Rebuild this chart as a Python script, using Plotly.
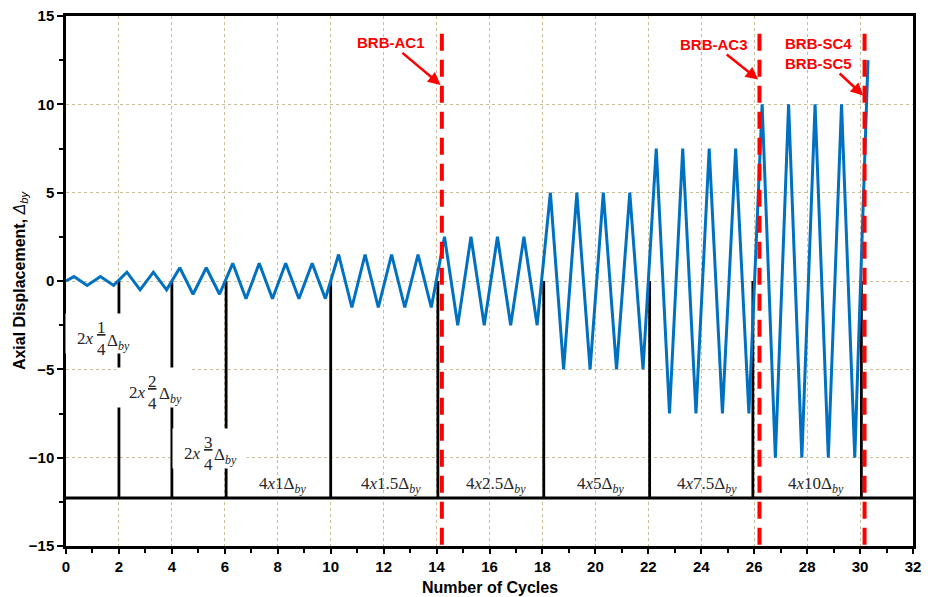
import plotly.graph_objects as go

# ---------------- data ----------------
cycle_x = [0, 0.3, 0.8, 1.3, 1.8, 2.3, 2.8, 3.3, 3.8, 4.3, 4.8, 5.3, 5.8,
           6.3, 6.8, 7.3, 7.8, 8.3, 8.8, 9.3, 9.8,
           10.3, 10.8, 11.3, 11.8, 12.3, 12.8, 13.3, 13.8,
           14.3, 14.8, 15.3, 15.8, 16.3, 16.8, 17.3, 17.8,
           18.3, 18.8, 19.3, 19.8, 20.3, 20.8, 21.3, 21.8,
           22.3, 22.8, 23.3, 23.8, 24.3, 24.8, 25.3, 25.8,
           26.3, 26.8, 27.3, 27.8, 28.3, 28.8, 29.3, 29.8, 30.3]
disp_y = [0, 0.25, -0.25, 0.25, -0.25, 0.5, -0.5, 0.5, -0.5, 0.75, -0.75, 0.75, -0.75,
          1, -1, 1, -1, 1, -1, 1, -1,
          1.5, -1.5, 1.5, -1.5, 1.5, -1.5, 1.5, -1.5,
          2.5, -2.5, 2.5, -2.5, 2.5, -2.5, 2.5, -2.5,
          5, -5, 5, -5, 5, -5, 5, -5,
          7.5, -7.5, 7.5, -7.5, 7.5, -7.5, 7.5, -7.5,
          10, -10, 10, -10, 10, -10, 10, -10, 12.5]

sep_x = [2, 4, 6.05, 10, 14.05, 18.05, 22.05, 25.95, 30.05]
sep_top = 0.0
base_y = -12.28
base_x = [0, 32]

brb_x = [14.2, 26.2, 30.17]
brb_top = 14.0
brb_bottom = -15.0
brb_labels = ["BRB-AC1", "BRB-AC3", "BRB-SC4<br>BRB-SC5"]
brb_head_y = [11.1, 11.4, 10.5]

block_labels = ["4<i>x</i>1Δ<sub><i>by</i></sub>", "4<i>x</i>1.5Δ<sub><i>by</i></sub>",
                "4<i>x</i>2.5Δ<sub><i>by</i></sub>", "4<i>x</i>5Δ<sub><i>by</i></sub>",
                "4<i>x</i>7.5Δ<sub><i>by</i></sub>", "4<i>x</i>10Δ<sub><i>by</i></sub>"]
block_label_x = [8.18, 12.26, 16.23, 20.2, 24.23, 28.33]
block_label_y = -11.55

frac_num = ["1", "2", "3"]
frac_den = "4"
frac_x = [1.33, 3.28, 5.37]
frac_y = [-3.26, -6.29, -9.75]

x_ticks = [0, 2, 4, 6, 8, 10, 12, 14, 16, 18, 20, 22, 24, 26, 28, 30, 32]
y_ticks = [-15, -10, -5, 0, 5, 10, 15]

x_title = "<b>Number of Cycles</b>"
y_title = "<b>Axial Displacement, </b><i>Δ<sub>by</sub></i>"

# ---------------- figure ----------------
fig = go.Figure()

# black block separators
sx, sy = [], []
for v in sep_x:
    sx += [v, v, None]
    sy += [base_y, sep_top, None]
fig.add_trace(go.Scatter(x=sx, y=sy, mode="lines",
                         line=dict(color="black", width=2.8), hoverinfo="skip"))
fig.add_trace(go.Scatter(x=base_x, y=[base_y, base_y], mode="lines",
                         line=dict(color="black", width=3), hoverinfo="skip"))

# loading protocol
fig.add_trace(go.Scatter(x=cycle_x, y=disp_y, mode="lines",
                         line=dict(color="#0070C0", width=3)))

# failure markers
rx, ry = [], []
for v in brb_x:
    rx += [v, v, None]
    ry += [brb_top, brb_bottom, None]
fig.add_trace(go.Scatter(x=rx, y=ry, mode="lines",
                         line=dict(color="#FF0000", width=4, dash="17px,9px"),
                         hoverinfo="skip"))

annotations = []
# BRB labels with arrows
ax_off = [(-50, -42), (-44, -35), (-45, -42)]
for lab, xv, hy, (ax, ay) in zip(brb_labels, brb_x, brb_head_y, ax_off):
    annotations.append(dict(x=xv - 0.05, y=hy, xref="x", yref="y", text="<b>%s</b>" % lab,
                            showarrow=True, arrowhead=2, arrowsize=1, arrowwidth=2.5,
                            arrowcolor="#FF0000", ax=ax, ay=ay,
                            font=dict(family="Liberation Sans", size=15, color="#FF0000")))

serif = dict(family="Liberation Serif", size=17, color="#262626")
for lab, xv in zip(block_labels, block_label_x):
    annotations.append(dict(x=xv, y=block_label_y, xref="x", yref="y", text=lab,
                            showarrow=False, font=serif))

for num, xv, yv in zip(frac_num, frac_x, frac_y):
    # white label box that interrupts the separator line and grid
    annotations.append(dict(x=xv, y=yv, xref="x", yref="y", text=" ",
                            showarrow=False, width=73, height=39, xshift=1, yshift=5,
                            bgcolor="white", borderpad=0, font=serif))
    annotations.append(dict(x=xv, y=yv, xref="x", yref="y", text="Δ<sub><i>by</i></sub>",
                            showarrow=False, xanchor="left", xshift=5, yshift=-3,
                            borderpad=0, font=serif))
    annotations.append(dict(x=xv, y=yv, xref="x", yref="y", text="2<i>x</i>",
                            showarrow=False, xanchor="right", xshift=-6, borderpad=0,
                            font=serif))
    annotations.append(dict(x=xv, y=yv, xref="x", yref="y",
                            text="<u>%s</u><br>%s" % (num, frac_den),
                            showarrow=False, xanchor="center", borderpad=0,
                            font=dict(family="Liberation Serif", size=17, color="#262626")))

# x-axis title placed as a paper annotation
annotations.append(dict(x=0.5, y=-0.078, xref="paper", yref="paper", text=x_title,
                        showarrow=False, xanchor="center", yanchor="middle",
                        font=dict(size=16, family="Liberation Sans", color="black")))

fig.update_layout(
    width=934, height=597,
    margin=dict(l=66, r=21, t=16, b=51, autoexpand=False),
    paper_bgcolor="white", plot_bgcolor="white",
    showlegend=False,
    annotations=annotations,
    font=dict(family="Liberation Sans", color="black"),
)

grid = dict(showgrid=True, gridcolor="#C8BE96", griddash="dot", gridwidth=1)
fig.update_xaxes(range=[0, 32], tickvals=x_ticks, ticks="outside", ticklen=5, tickwidth=2,
                 tickcolor="black", showline=True, linecolor="black", linewidth=2.5,
                 mirror=True, zeroline=False, automargin=False,
                 minor=dict(dtick=1, ticks="outside", ticklen=4, tickwidth=1.5,
                            tickcolor="black", showgrid=False),
                 tickfont=dict(size=15, weight="bold", family="Liberation Sans"),
                 **grid)
fig.update_yaxes(range=[-15, 15], tickvals=y_ticks, ticks="outside", ticklen=6, tickwidth=2,
                 tickcolor="black", showline=True, linecolor="black", linewidth=2.5,
                 mirror=True, zeroline=False, automargin=False,
                 minor=dict(dtick=2.5, ticks="outside", ticklen=4, tickwidth=1.5,
                            tickcolor="black", showgrid=False),
                 tickfont=dict(size=15, weight="bold", family="Liberation Sans"),
                 title=dict(text=y_title, standoff=0,
                            font=dict(size=16, family="Liberation Sans")),
                 **grid)

fig.write_html("out.html")
